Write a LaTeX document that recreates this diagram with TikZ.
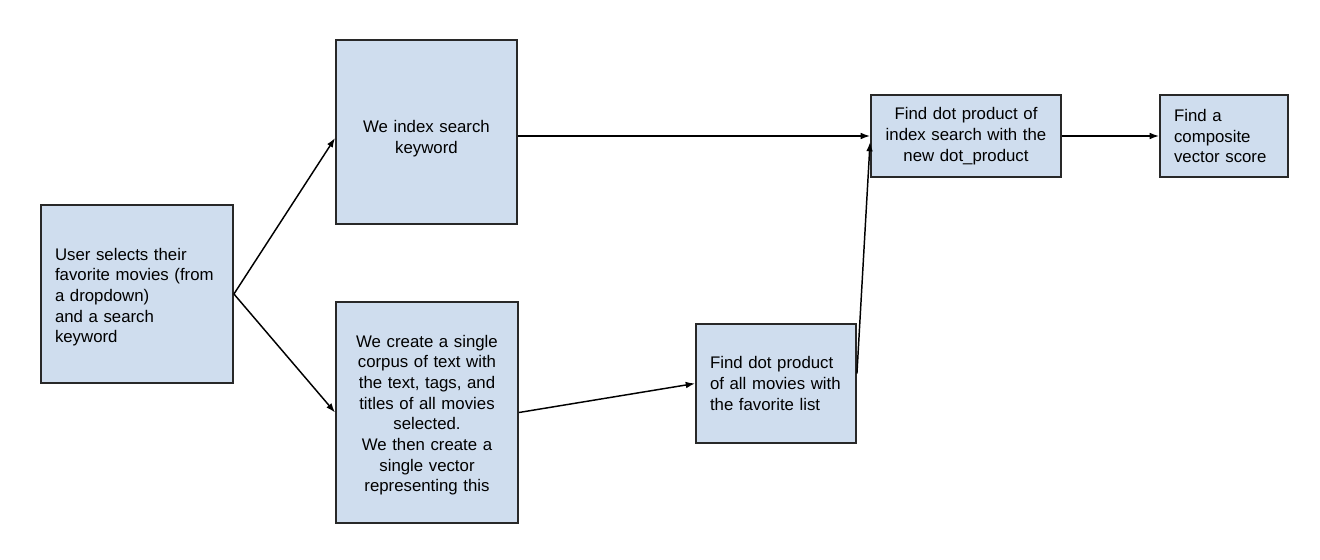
\documentclass[tikz,border=0pt]{standalone}
\usepackage{fontspec}
\setmainfont{Liberation Sans}
\usetikzlibrary{arrows.meta,calc}
\definecolor{boxfill}{RGB}{207,221,238}
\definecolor{boxline}{RGB}{40,40,40}
\tikzset{
  flowbox/.style={draw=boxline, line width=1.4pt, fill=boxfill, rectangle,
    inner xsep=10.5pt, inner ysep=0pt,
    font=\fontsize{12.6pt}{15.5pt}\selectfont},
  flowarrow/.style={draw=black, line width=1.1pt, -{Latex[length=7pt,width=5pt]}}
}
\begin{document}
\begin{tikzpicture}[x=0.75pt,y=-0.75pt]
\useasboundingbox (0,0) rectangle (1320,560);
\node[flowbox, align=left, text width=123pt, minimum height=133.5pt] (A) at (137,294)
  {\rule{0pt}{14pt}User selects their\\favorite movies (from\\a dropdown)\\and a search\\keyword};
\node[flowbox, align=center, text width=114.75pt, minimum height=138pt] (B) at (426.5,132)
  {\rule{0pt}{19pt}We index search\\keyword};
\node[flowbox, align=center, text width=115.5pt, minimum height=165.75pt] (C) at (427,412.5)
  {\rule{0pt}{13pt}We create a single\\corpus of text with\\the text, tags, and\\titles of all movies\\selected.\\We then create a\\single vector\\representing this\\[4pt]};
\node[flowbox, align=left, text width=99pt, minimum height=89.25pt] (D) at (776,383.5)
  {Find dot product\\of all movies with\\the favorite list};
\node[flowbox, align=center, text width=121.5pt, minimum height=61.5pt] (E) at (966,136)
  {Find dot product of\\index search with the\\new dot\_product};
\node[flowbox, align=left, text width=75pt, minimum height=61.5pt] (F) at (1224,136)
  {Find a\\composite\\vector score};
\draw[flowarrow] (A.east) -- ($(B.west)+(0,6)$);
\draw[flowarrow] (A.east) -- (C.west);
\draw[flowarrow] (E.west -| B.east) -- (E.west);
\draw[flowarrow] (C.east) -- (D.west);
\draw[flowarrow] ($(D.east)+(0,-10)$) -- ($(E.west)+(0,6)$);
\draw[flowarrow] (E.east) -- (F.west);
\end{tikzpicture}
\end{document}
